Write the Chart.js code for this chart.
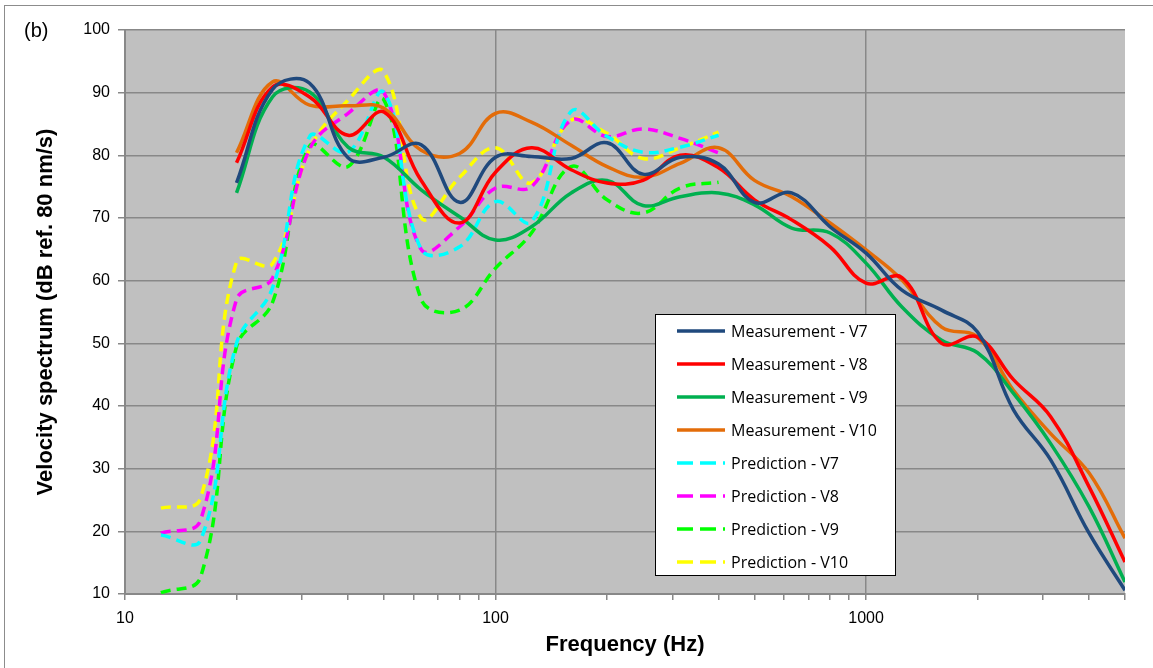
<!DOCTYPE html>
<html>
<head>
<meta charset="utf-8">
<script src="https://cdn.jsdelivr.net/npm/chart.js@4.4.1/dist/chart.umd.min.js"></script>
<style>
  body { margin: 0; background: #fff; }
  #wrap { position: relative; width: 1153px; height: 668px; overflow: hidden; }
  #frame { position: absolute; left: 4px; top: 5px; width: 1200px; height: 700px;
           border-left: 1px solid #8c8c8c; border-top: 1px solid #8c8c8c; }
  #panel { position: absolute; left: 24px; top: 19px; font: 20px "Liberation Sans", Arial, sans-serif; }
  #legend { position: absolute; left: 655px; top: 314px; width: 241px; height: 262px;
            background: #fff; border: 1px solid #000; box-sizing: border-box;
            font: 16px "Open Sans", sans-serif; color: #000; }
  .row { position: absolute; left: 0; height: 20px; display: flex; align-items: center; }
  .row svg { margin-left: 21px; margin-right: 6px; }
</style>
</head>
<body>
<div id="wrap">
  <div id="frame"></div>
  <canvas id="chart" width="1153" height="668"></canvas>
  <div id="panel">(b)</div>
  <div id="legend"></div>
</div>
<script>
// 1/3 octave band centre frequencies
const measFreq = [20, 25, 31.5, 40, 50, 63, 80, 100, 125, 160, 200, 250, 315, 400, 500, 630, 800,
                  1000, 1250, 1600, 2000, 2500, 3150, 4000, 5000];
const predFreq = [12.5, 16, 20, 25, 31.5, 40, 50, 63, 80, 100, 125, 160, 200, 250, 315, 400];

// measured spectra (dB)
const measV7  = [75.6, 90.5, 91.5, 79.6, 79.7, 81.7, 72.5, 79.7, 79.8, 79.5, 82.0, 77.0, 79.7, 78.6,
                 72.5, 74.0, 68.6, 64.4, 58.5, 55.3, 51.8, 39.4, 31.4, 19.7, 10.6];
const measV8  = [78.8, 90.9, 89.3, 83.2, 86.9, 76.0, 69.2, 77.3, 81.2, 77.7, 75.6, 76.0, 80.0, 78.0,
                 72.9, 69.7, 65.4, 59.6, 60.5, 50.0, 51.0, 44.2, 38.3, 27.1, 15.1];
const measV9  = [74.0, 89.3, 90.1, 81.3, 79.7, 74.5, 70.2, 66.5, 68.6, 74.0, 76.0, 72.0, 73.4, 74.0,
                 72.1, 68.4, 67.6, 62.8, 55.8, 50.5, 48.5, 42.0, 34.0, 23.9, 11.9];
const measV10 = [80.4, 91.7, 88.0, 87.9, 87.5, 80.8, 80.3, 86.7, 85.3, 81.6, 78.2, 76.5, 78.7, 81.2,
                 76.0, 73.4, 69.2, 64.9, 60.1, 52.6, 51.0, 42.5, 35.6, 29.3, 18.9];

// predicted spectra (dB)
const predV7  = [19.4, 18.6, 50.0, 58.8, 83.0, 80.5, 90.0, 65.0, 65.4, 72.6, 69.4, 87.0, 83.0, 80.5, 81.3, 83.2];
const predV8  = [19.7, 21.8, 57.0, 60.4, 81.0, 86.7, 90.0, 65.0, 68.6, 74.8, 75.0, 85.6, 83.0, 84.2, 82.7, 80.4];
const predV9  = [10.2, 12.7, 49.5, 56.5, 81.5, 78.2, 88.8, 57.0, 55.3, 62.0, 67.6, 78.2, 72.9, 70.8, 74.8, 75.7];
const predV10 = [23.7, 25.3, 63.0, 62.7, 81.0, 88.8, 93.3, 70.0, 76.5, 81.2, 75.6, 85.6, 83.5, 79.5, 81.2, 83.7];

const xTicks = [10, 20, 30, 40, 50, 60, 70, 80, 90, 100, 200, 300, 400, 500, 600, 700, 800, 900,
                1000, 2000, 3000, 4000, 5000];
const decades = [10, 100, 1000];

const series = [
    { label: 'Measurement - V7',  freq: measFreq, values: measV7,  color: '#1F497D', dashed: false },
    { label: 'Measurement - V8',  freq: measFreq, values: measV8,  color: '#FF0000', dashed: false },
    { label: 'Measurement - V9',  freq: measFreq, values: measV9,  color: '#00B050', dashed: false },
    { label: 'Measurement - V10', freq: measFreq, values: measV10, color: '#E36C09', dashed: false },
    { label: 'Prediction - V7',   freq: predFreq, values: predV7,  color: '#00FFFF', dashed: true },
    { label: 'Prediction - V8',   freq: predFreq, values: predV8,  color: '#FF00FF', dashed: true },
    { label: 'Prediction - V9',   freq: predFreq, values: predV9,  color: '#00FF00', dashed: true },
    { label: 'Prediction - V10',  freq: predFreq, values: predV10, color: '#FFFF00', dashed: true },
];

// grey plot area
const plotBg = {
    id: 'plotBg',
    beforeDraw(chart) {
        const a = chart.chartArea;
        chart.ctx.save();
        chart.ctx.fillStyle = '#C0C0C0';
        chart.ctx.fillRect(a.left, a.top, a.right - a.left, a.bottom - a.top);
        chart.ctx.restore();
    }
};

const gridGrey = '#888888';

new Chart(document.getElementById('chart'), {
    type: 'line',
    data: {
        datasets: series.map(s => ({
            label: s.label,
            data: s.freq.map((f, i) => ({ x: f, y: s.values[i] })),
            borderColor: s.color,
            backgroundColor: s.color,
            borderWidth: 3.5,
            borderDash: s.dashed ? [10, 6] : [],
            pointRadius: 0,
            tension: 0.4,
            fill: false,
        })),
    },
    options: {
        responsive: false,
        animation: false,
        layout: { padding: { left: 0, top: 30, right: 28, bottom: 0 } },
        plugins: {
            legend: { display: false },
            tooltip: { enabled: false },
        },
        scales: {
            x: {
                type: 'logarithmic',
                min: 10,
                max: 5000,
                afterBuildTicks: axis => { axis.ticks = xTicks.map(v => ({ value: v })); },
                afterFit: axis => { axis.height = 74; },
                ticks: {
                    autoSkip: false,
                    maxRotation: 0,
                    padding: 9,
                    color: '#000',
                    font: { family: 'Liberation Sans', size: 16 },
                    callback: v => decades.includes(v) ? String(v) : '',
                },
                grid: {
                    color: ctx => decades.includes(ctx.tick && ctx.tick.value) ? gridGrey : 'rgba(0,0,0,0)',
                    tickColor: gridGrey,
                    lineWidth: 1.5,
                    tickLength: 6,
                },
                border: { color: gridGrey, width: 2 },
                title: {
                    display: true,
                    text: 'Frequency (Hz)',
                    color: '#000',
                    font: { family: 'Liberation Sans', size: 22, weight: 'bold' },
                    padding: { top: 0, bottom: 10 },
                },
            },
            y: {
                min: 10,
                max: 100,
                afterFit: axis => { axis.width = 125; },
                ticks: {
                    stepSize: 10,
                    padding: 8,
                    color: '#000',
                    font: { family: 'Liberation Sans', size: 16 },
                },
                grid: {
                    color: gridGrey,
                    lineWidth: 1.5,
                    tickLength: 7,
                },
                border: { color: gridGrey, width: 2 },
                title: {
                    display: true,
                    text: 'Velocity spectrum (dB ref. 80 nm/s)',
                    color: '#000',
                    font: { family: 'Liberation Sans', size: 22, weight: 'bold' },
                    padding: { top: 33, bottom: 0 },
                },
            },
        },
    },
    plugins: [plotBg],
});

// legend inside the plot, like the original
const legend = document.getElementById('legend');
series.forEach((s, i) => {
    const row = document.createElement('div');
    row.className = 'row';
    row.style.top = (6 + i * 33) + 'px';
    const dash = s.dashed ? 'stroke-dasharray="16 7"' : '';
    row.innerHTML = `<svg width="48" height="8"><line x1="0" y1="4" x2="48" y2="4" stroke="${s.color}" stroke-width="3.5" ${dash}/></svg><span>${s.label}</span>`;
    legend.appendChild(row);
});
</script>
</body>
</html>
